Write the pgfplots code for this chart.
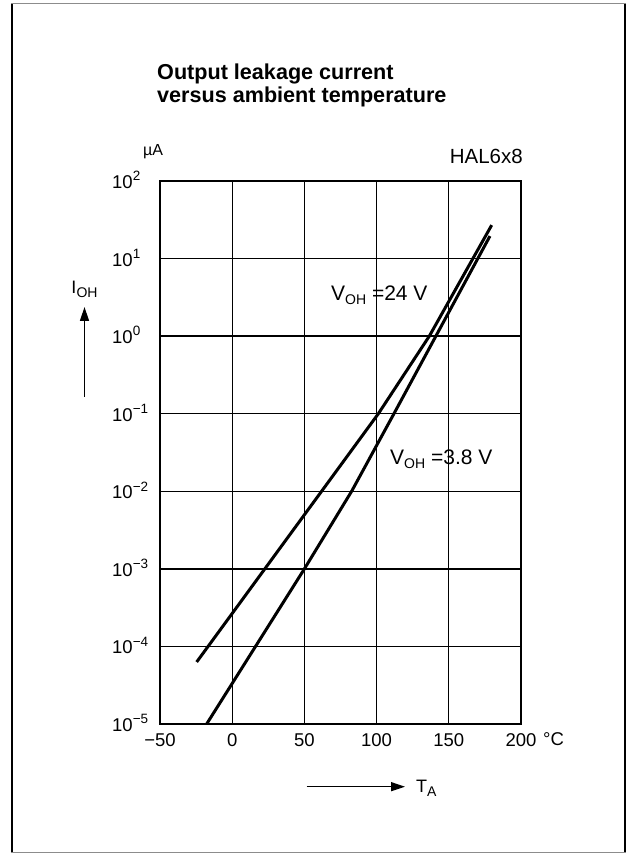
\documentclass[border=0pt]{standalone}
\usepackage{fontspec}
\setmainfont{Liberation Sans}
\usepackage{pgfplots}
\pgfplotsset{compat=1.18}
\usetikzlibrary{arrows.meta}
\newcommand{\sz}[1]{\fontsize{#1}{#1}\selectfont}
\newcommand{\ex}[1]{10\raisebox{0.42em}{\sz{13.5}#1}}
\newcommand{\sub}[1]{\raisebox{-4pt}{\sz{14}#1}}
\begin{document}
\begin{tikzpicture}[x=1pt,y=1pt]
\useasboundingbox (0,0) rectangle (632,855);
% frame
\draw[line width=2.4pt] (12,2) -- (12,852);
\draw[line width=2.4pt] (625,2) -- (625,852);
\draw[black!45, line width=1pt] (11,851) -- (626,851);
\draw[black!45, line width=1pt] (11,2) -- (626,2);
% title
\node[anchor=base west, inner sep=0pt, font=\sz{21.6}\bfseries] at (157,775) {Output leakage current};
\node[anchor=base west, inner sep=0pt, font=\sz{21.6}\bfseries] at (157,752) {versus ambient temperature};
\node[anchor=base west, inner sep=0pt, font=\sz{16}] at (143,699) {µA};
\node[anchor=base east, inner sep=0pt, font=\sz{20.5}] at (523,691) {HAL6x8};
% y label and arrow
\node[anchor=base, inner sep=0pt, font=\sz{18}] at (84.5,561) {I\sub{OH}};
\draw[line width=1.5pt, -{Triangle[length=14pt,width=9pt]}] (84.5,458) -- (84.5,548);
% x label and arrow
\draw[line width=1.5pt, -{Triangle[length=14pt,width=9pt]}] (306.7,68.3) -- (405,68.3);
\node[anchor=base west, inner sep=0pt, font=\sz{18}] at (416,62) {T\sub{A}};
\node[anchor=base west, inner sep=0pt, font=\sz{18.5}] at (543,109) {°C};
\begin{axis}[at={(160pt,131pt)}, anchor=south west, scale only axis,
  width=361pt, height=543pt,
  xmin=-50, xmax=200, ymin=1e-5, ymax=1e2, ymode=log,
  xtick={-50,0,50,100,150,200}, xticklabels={−50,0,50,100,150,200},
  ytick={1e-5,1e-4,1e-3,1e-2,1e-1,1,1e1,1e2},
  yticklabels={\ex{−5},\ex{−4},\ex{−3},\ex{−2},\ex{−1},\ex{0},\ex{1},\ex{2}},
  yminorticks=false,
  grid=major, major grid style={black, line width=1.3pt},
  axis line style={line width=1.3pt},
  major tick length=0pt,
  tick label style={font=\sz{18.5}, inner sep=0pt},
  xticklabel style={anchor=north, yshift=-9pt},
  yticklabel style={anchor=base west, xshift=-48pt, yshift=-7.5pt},
  clip=false,
]
\addplot[line width=3pt, black] coordinates {
  (-24.6,6.3e-5) (101.2,1e-1) (136.5,1) (179.7,27)};
\addplot[line width=3pt, black] coordinates {
  (-17.7,1e-5) (50,1e-3) (82.7,1e-2) (112,1e-1) (178.5,19.5)};
\node[anchor=base west, inner sep=0pt, font=\sz{21}] at (axis cs:68.4,2.9) {V\sub{OH} =24 V};
\node[anchor=base west, inner sep=0pt, font=\sz{21}] at (axis cs:109.3,0.022) {V\sub{OH} =3.8 V};
\end{axis}
\end{tikzpicture}
\end{document}
